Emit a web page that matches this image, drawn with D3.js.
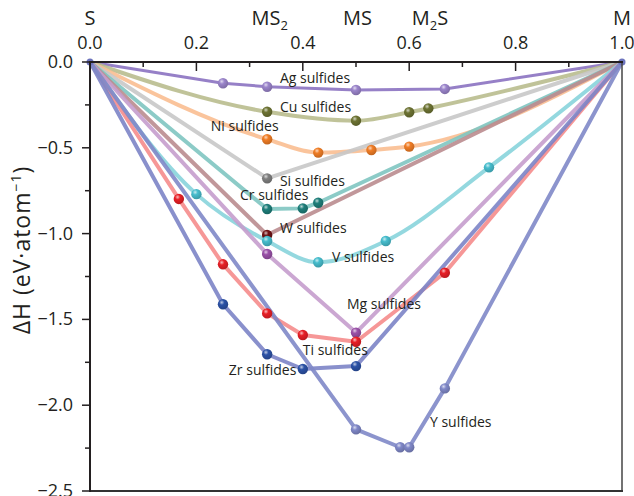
<!DOCTYPE html>
<html lang="en">
<head>
<meta charset="UTF-8">
<title>Sulfide formation enthalpies</title>
<style>
  body { margin: 0; background: #fff; }
  svg { display: block; font-family: "Open Sans", "Noto Sans", sans-serif; }
</style>
</head>
<body>
<svg id="svg" width="634" height="496"></svg>
<script src="https://d3js.org/d3.v7.min.js"></script>
<script>
// metal fraction (x) and formation enthalpy (eV/atom) for each sulfide family
const agX = [0, 0.25, 0.333, 0.5, 0.667, 1]
const agH = [0, -0.124, -0.144, -0.163, -0.157, 0]
const cuX = [0, 0.333, 0.5, 0.6, 0.636, 1]
const cuH = [0, -0.29, -0.342, -0.293, -0.27, 0]
const niX = [0, 0.333, 0.429, 0.529, 0.6, 1]
const niH = [0, -0.45, -0.528, -0.513, -0.493, 0]
const siX = [0, 0.333, 1]
const siH = [0, -0.678, 0]
const crX = [0, 0.333, 0.4, 0.429, 1]
const crH = [0, -0.857, -0.853, -0.82, 0]
const wX = [0, 0.333, 1]
const wH = [0, -1.008, 0]
const vX = [0, 0.2, 0.333, 0.429, 0.556, 0.75, 1]
const vH = [0, -0.77, -1.043, -1.167, -1.043, -0.614, 0]
const mgX = [0, 0.333, 0.5, 1]
const mgH = [0, -1.119, -1.577, 0]
const tiX = [0, 0.167, 0.25, 0.333, 0.4, 0.5, 0.667, 1]
const tiH = [0, -0.798, -1.179, -1.465, -1.591, -1.63, -1.228, 0]
const zrX = [0, 0.25, 0.333, 0.4, 0.5, 1]
const zrH = [0, -1.412, -1.703, -1.789, -1.772, 0]
const yX = [0, 0.5, 0.583, 0.6, 0.667, 1]
const yH = [0, -2.141, -2.245, -2.245, -1.902, 0]

const names = ['Ag', 'Cu', 'Ni', 'Si', 'Cr', 'W', 'V', 'Mg', 'Ti', 'Zr', 'Y']
const xsList = [agX, cuX, niX, siX, crX, wX, vX, mgX, tiX, zrX, yX]
const hsList = [agH, cuH, niH, siH, crH, wH, vH, mgH, tiH, zrH, yH]

const topTicks = [0, 0.2, 0.4, 0.6, 0.8, 1.0]
const leftTicks = [0, -0.5, -1.0, -1.5, -2.0, -2.5]
const phases = [
  { pos: 0, base: 'S', sub: '', tail: '' },
  { pos: 0.338, base: 'MS', sub: '2', tail: '' },
  { pos: 0.503, base: 'MS', sub: '', tail: '' },
  { pos: 0.639, base: 'M', sub: '2', tail: 'S' },
  { pos: 1.0, base: 'M', sub: '', tail: '' }
]

// styling per series: [line colour, ball colour, curved?]
const style = {
  Ag: ['#8b72c1', '#9b85cb', false],
  Cu: ['#b9bc8e', '#6d7333', true],
  Ni: ['#f9be91', '#f07d25', true],
  Si: ['#c8c8c8', '#7f7f7f', false],
  Cr: ['#80c5c1', '#1e7e7a', false],
  W: ['#ba8c8f', '#701214', false],
  V: ['#88d4db', '#46bdcd', true],
  Mg: ['#c59dcd', '#9a51a8', false],
  Ti: ['#f58c8c', '#e81f26', false],
  Zr: ['#7c84c6', '#2c52a6', false],
  Y: ['#8088c8', '#8088c8', false]
}
// label anchors in data units
const labelAt = {
  Ag: [0.357, -0.122], Cu: [0.357, -0.291], Ni: [0.227, -0.402],
  Si: [0.357, -0.723], Cr: [0.282, -0.806], W: [0.357, -0.997],
  V: [0.455, -1.166], Mg: [0.483, -1.439], Ti: [0.4, -1.707],
  Zr: [0.261, -1.824], Y: [0.639, -2.127]
}

const series = names.map((n, i) => ({
  name: n,
  pts: xsList[i].map((v, j) => ({ x: v, h: hsList[i][j] }))
}))

const svg = d3.select('#svg')
const xScale = d3.scaleLinear().domain([0, 1]).range([90, 622])
const yScale = d3.scaleLinear().domain([-2.5, 0]).range([491, 62])

// ball gradients
const defs = svg.append('defs')
series.forEach(s => {
  const c = style[s.name][1]
  const g = defs.append('radialGradient')
    .attr('id', 'ball-' + s.name)
    .attr('cx', '38%').attr('cy', '32%').attr('r', '70%')
  g.append('stop').attr('offset', '0%').attr('stop-color', d3.interpolateRgb(c, '#fff')(0.7))
  g.append('stop').attr('offset', '35%').attr('stop-color', c)
  g.append('stop').attr('offset', '100%').attr('stop-color', d3.color(c).darker(0.6))
})

// lines
const lineLayer = svg.append('g')
series.forEach(s => {
  const st = style[s.name]
  const gen = d3.line()
    .x(d => xScale(d.x))
    .y(d => yScale(d.h))
    .curve(st[2] ? d3.curveMonotoneX : d3.curveLinear)
  lineLayer.append('path')
    .attr('d', gen(s.pts))
    .attr('fill', 'none')
    .attr('stroke', st[0])
    .attr('stroke-width', s.name === 'Ag' ? 3 : 4)
    .attr('stroke-opacity', 0.9)
    .attr('stroke-linejoin', 'round')
    .attr('stroke-linecap', 'round')
})

// balls
const ballLayer = svg.append('g')
series.forEach(s => {
  ballLayer.selectAll(null)
    .data(s.pts.filter(d => d.x > 0 && d.x < 1))
    .enter()
    .append('circle')
    .attr('cx', d => xScale(d.x))
    .attr('cy', d => yScale(d.h))
    .attr('r', 5.2)
    .attr('fill', `url(#ball-${s.name})`)
})
ballLayer.selectAll(null)
  .data([0, 1])
  .enter()
  .append('circle')
  .attr('cx', d => xScale(d))
  .attr('cy', yScale(0))
  .attr('r', 3.5)
  .attr('fill', '#6d74bd')

// series labels
svg.append('g').selectAll('text')
  .data(series)
  .enter()
  .append('text')
  .attr('x', d => xScale(labelAt[d.name][0]))
  .attr('y', d => yScale(labelAt[d.name][1]))
  .attr('font-size', 14)
  .attr('fill', '#231f20')
  .text(d => d.name + ' sulfides')

// frame: right and bottom
svg.append('line')
  .attr('x1', 622).attr('x2', 622).attr('y1', 62).attr('y2', 491)
  .attr('stroke', '#444').attr('stroke-width', 1.5)
svg.append('line')
  .attr('x1', 89).attr('x2', 623).attr('y1', 491).attr('y2', 491)
  .attr('stroke', '#333').attr('stroke-width', 2)

// top axis
const topAxis = svg.append('g').attr('transform', 'translate(0,62)')
topAxis.append('line').attr('x1', 89).attr('x2', 623)
  .attr('stroke', '#231f20').attr('stroke-width', 2)
topAxis.selectAll('.tk')
  .data(d3.range(1, 10).map(i => i / 10))
  .enter()
  .append('line')
  .attr('x1', d => xScale(d)).attr('x2', d => xScale(d))
  .attr('y1', 0)
  .attr('y2', (d, i) => i % 2 === 1 ? 9 : 5)
  .attr('stroke', '#231f20').attr('stroke-width', 1.5)
topAxis.selectAll('.lb')
  .data(topTicks)
  .enter()
  .append('text')
  .attr('x', d => xScale(d))
  .attr('y', -13)
  .attr('text-anchor', 'middle')
  .attr('font-size', 18)
  .attr('fill', '#231f20')
  .text(d => d3.format('.1f')(d))

// phase labels above
const ph = svg.append('g').selectAll('text')
  .data(phases)
  .enter()
  .append('text')
  .attr('x', d => xScale(d.pos))
  .attr('y', 25)
  .attr('text-anchor', 'middle')
  .attr('font-size', 20)
  .attr('fill', '#231f20')
ph.append('tspan').text(d => d.base)
ph.filter(d => d.sub).append('tspan')
  .attr('font-size', 13).attr('dy', 5)
  .text(d => d.sub)
ph.filter(d => d.tail).append('tspan')
  .attr('dy', -5)
  .text(d => d.tail)

// left axis
const leftAxis = svg.append('g').attr('transform', 'translate(90,0)')
leftAxis.append('line').attr('y1', 61).attr('y2', 492)
  .attr('stroke', '#231f20').attr('stroke-width', 2)
leftAxis.selectAll('.tk')
  .data(d3.range(0, 11).map(i => -i * 0.25))
  .enter()
  .append('line')
  .attr('y1', d => yScale(d)).attr('y2', d => yScale(d))
  .attr('x1', (d, i) => i % 2 === 0 ? -8 : -5)
  .attr('x2', 0)
  .attr('stroke', '#231f20').attr('stroke-width', 1.5)
leftAxis.selectAll('.lb')
  .data(leftTicks)
  .enter()
  .append('text')
  .attr('x', -17)
  .attr('y', d => yScale(d) + 6)
  .attr('text-anchor', 'end')
  .attr('font-size', 18)
  .attr('fill', '#231f20')
  .text(d => d3.format('.1f')(d))

// y title
const yt = svg.append('text')
  .attr('transform', 'translate(30,250) rotate(-90)')
  .attr('text-anchor', 'middle')
  .attr('font-size', 23)
  .attr('letter-spacing', 1)
  .attr('fill', '#231f20')
yt.append('tspan').text('\u0394H (eV\u00b7atom')
yt.append('tspan').attr('font-size', 14).attr('dy', -9).text('\u22121')
yt.append('tspan').attr('dy', 9).text(')')
</script>
</body>
</html>
